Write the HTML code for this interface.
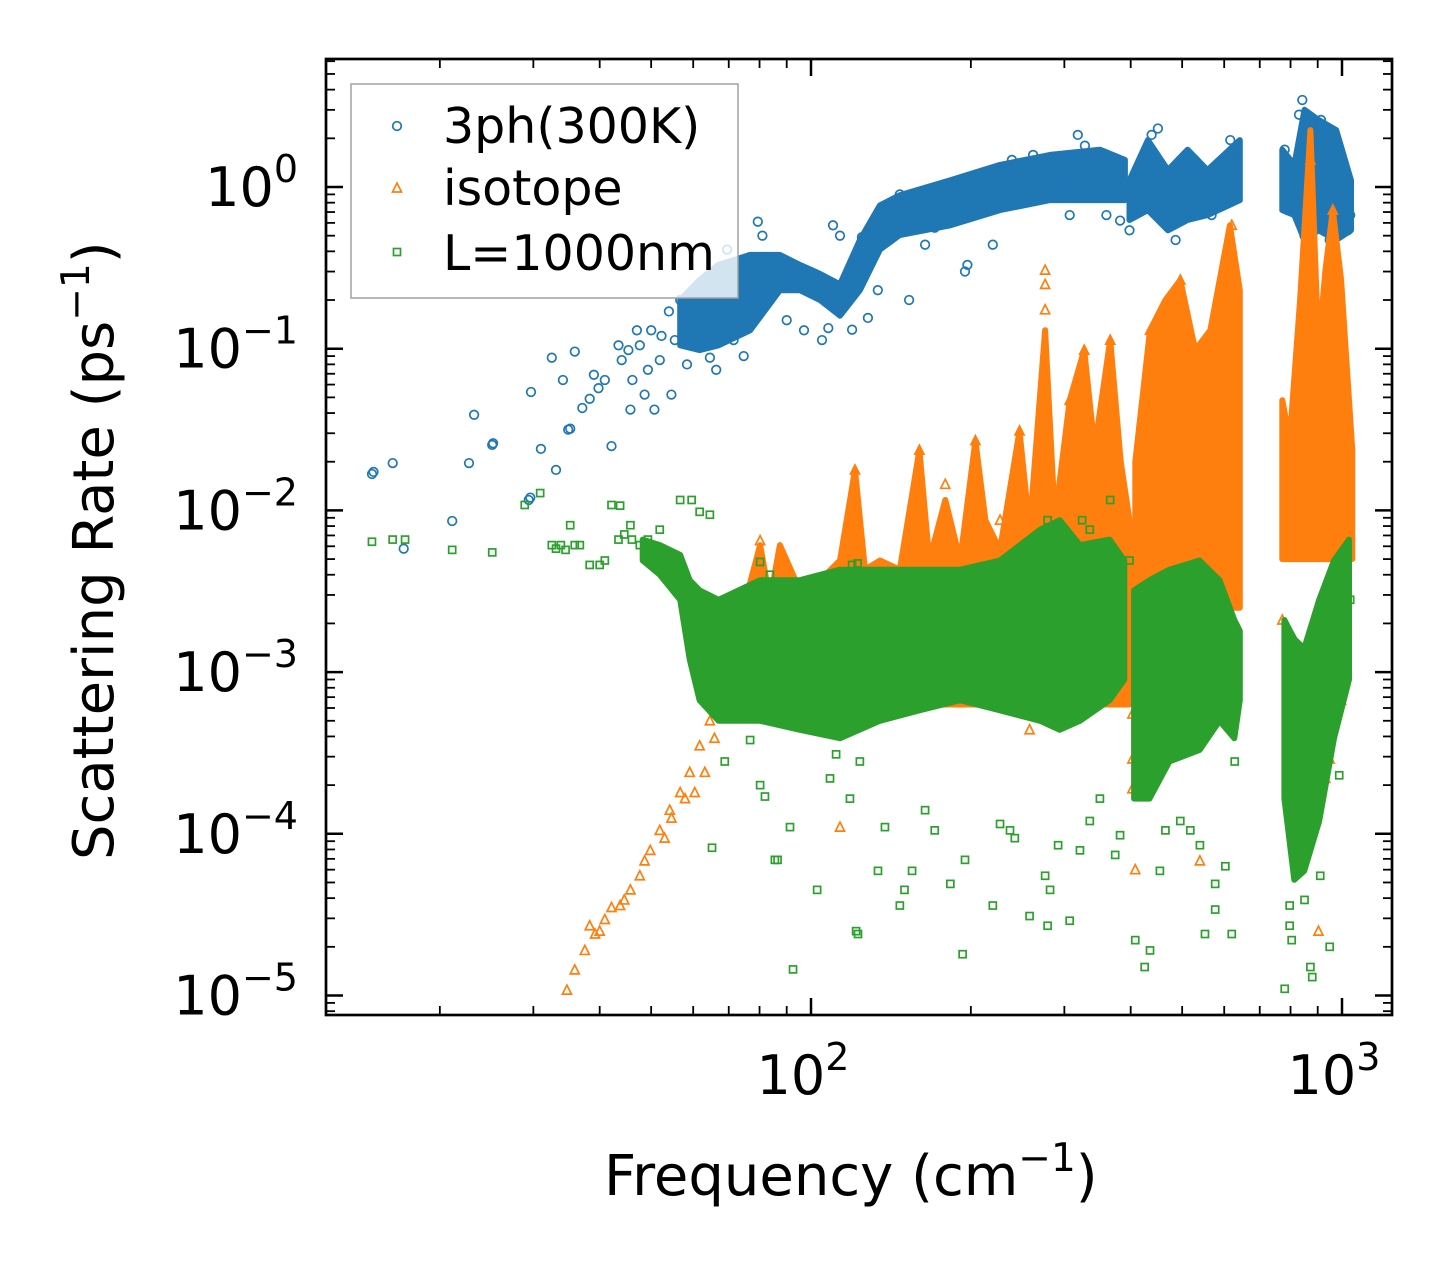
<!DOCTYPE html>
<html><head><meta charset="utf-8"><style>
html,body{margin:0;padding:0;background:#fff;}
svg{display:block;font-family:"DejaVu Sans","Liberation Sans",sans-serif;}
</style></head><body>
<svg id="chart" width="1455" height="1265" viewBox="0 0 1455 1265" xmlns="http://www.w3.org/2000/svg">
<rect x="0" y="0" width="1455" height="1265" fill="#fff"/>
<defs><clipPath id="plotclip"><rect x="326" y="59" width="1066" height="956"/></clipPath></defs>
<g id="plot" clip-path="url(#plotclip)"></g>
<g id="axes"></g>
<text x="604" y="1195" font-size="56" fill="#000">Frequency (cm<tspan font-size="39" dy="-24">−1</tspan><tspan dy="24">)</tspan></text>
<text transform="translate(113,860) rotate(-90)" font-size="56" fill="#000">Scattering Rate (ps<tspan font-size="39" dy="-24">−1</tspan><tspan dy="24">)</tspan></text>
<g>
<rect x="351" y="84" width="387" height="214" fill="rgba(255,255,255,0.8)" stroke="#a0a0a0" stroke-width="1.5"/>
<circle cx="397" cy="126" r="4.3" fill="none" stroke="#1f77b4" stroke-width="1.7"/>
<text x="443" y="143" font-size="49">3ph(300K)</text>
<polygon points="397,183 392.5,192 401.5,192" fill="none" stroke="#ff7f0e" stroke-width="1.7"/>
<text x="443" y="205" font-size="49">isotope</text>
<rect x="393.5" y="248.5" width="7" height="7" fill="none" stroke="#2ca02c" stroke-width="1.7"/>
<text x="443" y="270" font-size="49">L=1000nm</text>
</g>
</svg>
<script>
// ---- data (frequency in cm^-1, rate in ps^-1) ----
const blueFreq=[14.9,15,16.3,17.1,21.1,22.7,23.2,25.1,25.2,29.4,29.6,29.7,31,32.5,33.1,34.1,34.9,35.2,35.9,37.1,38.3,39,39.8,40.9,42.1,43.4,44,45.3,45.7,46.1,47,47.6,48.6,49.3,50,50.7,51.9,52.3,54,54.6,55.4,56.7,58.4,59.3,61,63.1,64.5,66.3,67,69.5,71.5,74.7,76.8,79.4,81,83.7,86.3,90,91.8,97,104.9,107.8,110,113.4,115.9,119.5,122.4,124.7,128,133.6,140.8,147,153,164,171,184,195,197,209,220,239,262,288,307,318,328,360,382,398,425,438,450,470,486,506,528,568,616,633,780,790,830,842,850,900,913,948,988,1025,1036];
const blueRate=[.0168,.0173,.0196,.0058,.0086,.0196,.039,.0254,.026,.0116,.012,.054,.024,.088,.0178,.064,.0316,.032,.096,.043,.049,.069,.057,.064,.025,.105,.085,.098,.042,.064,.13,.105,.052,.074,.13,.042,.085,.12,.17,.052,.113,.2,.08,.15,.105,.23,.088,.074,.32,.41,.113,.09,.15,.61,.5,.2,.36,.15,.29,.13,.113,.134,.58,.5,.2,.131,.345,.49,.155,.23,.72,.9,.2,.44,.56,1.03,.3,.33,1.19,.44,1.47,1.58,1.03,.67,2.1,1.8,.67,.62,.54,.83,2.1,2.3,.62,.47,1.03,1.47,.67,1.95,1.58,1.7,.72,2.8,3.45,.5,2.25,2.6,.47,.83,.54,.67];
const blueBandSeg=[0,0,0,0,0,0,0,0,0,0,0,0,0,0,0,0,1,1,1,1,1,1,2,2,2,2,2,2];
const blueBandFreq=[56.7,61.7,67,76.8,87.4,95.3,104,113.4,123.6,134.8,147,183,227,282,350,390,398,431,470,512,558,642,772,813,850,903,975,1040];
const blueBandLo=[.105,.098,.105,.13,.23,.23,.2,.16,.23,.41,.505,.58,.72,.83,.83,.83,.625,.72,.54,.625,.67,.83,.72,.67,.47,.54,.47,.54];
const blueBandHi=[.2,.266,.33,.38,.38,.33,.29,.25,.47,.77,.89,1.1,1.37,1.58,1.7,1.47,1.1,1.95,1.27,1.7,1.27,1.95,1.7,1.37,3,2.6,2.25,1.1];

const isoFreq=[34.7,35.9,37.5,39.2,40.9,43.7,45.7,47.6,49.8,51.9,54.2,56.7,59.1,61.7,64.5,67,38.3,40,42.1,44.5,48.6,53,54.6,57.9,60.4,63.1,65.8,276,276,276,620,620,872,961,247,204,160,121,496,366,327,307,435,80.2,179,227,113.4,403,403,403,540,408,813,834,903,948,930,797,996,258,217,386,321,797,1020,1032,772,834,930];
const isoRate=[1.08e-5,1.44e-5,1.9e-5,2.4e-5,2.95e-5,3.6e-5,4.5e-5,5.5e-5,7.9e-5,1.05e-4,1.4e-4,1.8e-4,2.4e-4,3.5e-4,5e-4,7.7e-4,2.7e-5,2.5e-5,3.5e-5,3.9e-5,6.8e-5,9.4e-5,1.25e-4,1.65e-4,1.8e-4,2.4e-4,3.9e-4,.306,.25,.174,.58,.41,1.47,.72,.031,.027,.0236,.0178,.266,.113,.098,.048,.13,.0065,.0145,.0087,1.1e-4,5.5e-4,2.9e-4,1.9e-4,6.8e-5,6e-5,.0016,1.05e-4,2.5e-5,2.9e-4,2.2e-4,6.7e-4,6.7e-4,4.4e-4,6.7e-4,7.7e-4,.0016,.0154,.036,.0178,.0021,.0087,.0024];
const isoBandSeg=[0,0,0,0,0,0,0,0,0,0,0,0,0,0,0,0,0,0,0,0,0,0,0,0,0,0,0,0,0,1,1,1,1,1,1,1,1,2,2,2,2,2,2,2,2,2];
const isoBandFreq=[67,73.6,80.2,83.7,87.4,95.3,104,113.4,121,126.4,134.8,147,160,167,179,191,204,213,227,247,258,276,288,307,327,342,366,383,398,408,435,465,496,529,565,615,642,772,797,834,872,903,930,961,996,1045];
const isoBandLo=[6.3e-4,6.3e-4,6.3e-4,6.3e-4,6.3e-4,6.3e-4,6.3e-4,6.3e-4,6.3e-4,6.3e-4,6.3e-4,6.3e-4,6.3e-4,6.3e-4,6.3e-4,6.3e-4,6.3e-4,6.3e-4,6.3e-4,6.3e-4,6.3e-4,6.3e-4,6.3e-4,6.3e-4,6.3e-4,6.3e-4,6.3e-4,6.3e-4,6.3e-4,.0025,.0025,.0025,.0025,.0025,.0025,.0025,.0025,.005,.005,.005,.005,.005,.005,.005,.005,.005];
const isoBandHi=[8.9e-4,.0021,.0061,.0028,.0061,.0032,.0037,.0049,.0178,.0043,.0049,.0043,.0236,.0049,.0116,.0049,.027,.0087,.0057,.031,.0076,.13,.0087,.048,.098,.024,.113,.02,.0087,.02,.13,.2,.266,.098,.13,.58,.23,.048,.027,.2,2.25,.098,.3,.72,.266,.024];

const bndFreq=[14.9,16.3,17.2,21.1,25.1,28.9,30.9,32.5,33.1,33.8,34.5,35.2,35.9,36.7,38.3,40,40.9,42.1,43.4,44.5,46,47.6,49.3,51.9,56.7,59.6,61.7,64.5,65.6,63.9,65.1,68.8,76.8,80.2,81.9,85.5,86.5,91.3,92.5,102.7,108.6,111.5,118.4,121.6,122.6,123.6,133.7,137.8,147,150,155,164,171,183,193,195,220,227,237,242,258,276,279,282,292,307,321,335,350,374,382,408,425,435,454,465,496,518,540,552,577,577,603,620,628,577,398,797,797,804,834,850,872,879,910,948,988,1025,1036,1016,276,279,324,366,335,119.5,122.4,80.2,83.7,45.7,43.7,780];
const bndRate=[.0064,.0066,.0066,.0057,.0055,.0108,.0128,.0061,.0058,.0061,.0057,.0081,.0061,.0061,.0046,.0046,.0049,.0108,.0066,.0071,.0066,.0061,.0066,.0076,.0116,.0116,.0098,.0094,.0014,.0012,8.2e-5,2.8e-4,3.8e-4,2e-4,1.7e-4,6.9e-5,6.9e-5,1.1e-4,1.45e-5,4.5e-5,2.2e-4,3.1e-4,1.65e-4,2.5e-5,2.4e-5,2.8e-4,5.9e-5,1.1e-4,3.6e-5,4.5e-5,5.9e-5,1.4e-4,1.05e-4,4.9e-5,1.8e-5,6.9e-5,3.6e-5,1.15e-4,1.05e-4,9.4e-5,3.1e-5,5.5e-5,2.7e-5,4.5e-5,8.5e-5,2.9e-5,7.9e-5,1.2e-4,1.65e-4,7.4e-5,9.8e-5,2.2e-5,1.5e-5,1.9e-5,5.9e-5,1.05e-4,1.2e-4,1.05e-4,8.5e-5,2.4e-5,4.9e-5,3.4e-5,6.3e-5,2.4e-5,2.8e-4,.0037,.0049,3.6e-5,2.7e-5,2.2e-5,5.9e-5,3.9e-5,1.5e-5,1.3e-5,5.5e-5,2e-5,2.3e-4,.0018,.0028,.0032,.0066,.0087,.0087,.0116,.0076,.0046,.0047,.0048,.004,.0081,.0107,1.1e-5];
const bndBandSeg=[0,0,0,0,0,0,0,0,0,0,0,0,0,0,0,0,0,0,1,1,1,1,1,1,1,2,2,2,2,2,2];
const bndBandFreq=[48.2,51.9,56.7,59.1,61.7,67,80.2,95.3,113.4,134.8,160,191,227,270,294,321,365,389,406,434,473,539,588,627,642,779,813,849,906,966,1031];
const bndBandLo=[.0049,.004,.0028,.0012,6.7e-4,5e-4,5e-4,4.4e-4,3.9e-4,5e-4,5.8e-4,6.7e-4,5.8e-4,5e-4,4.4e-4,5e-4,6.7e-4,9e-4,1.65e-4,1.65e-4,2.8e-4,3.3e-4,5e-4,3.9e-4,6.7e-4,1.65e-4,5.2e-5,5.9e-5,1.2e-4,3.9e-4,9e-4];
const bndBandHi=[.0066,.0061,.0053,.0037,.0032,.0028,.0037,.0037,.0043,.0043,.0043,.0043,.0049,.0076,.0087,.0061,.0066,.0049,.0032,.0037,.0043,.0049,.0037,.0021,.0018,.0021,.0016,.0014,.0028,.0049,.0066];

const xMajorTicks=[100,1000];
const xTickLabels=["2","3"];
const yMajorTicks=[1,0.1,0.01,0.001,0.0001,0.00001];
const yTickLabels=["0","−1","−2","−3","−4","−5"];

// ---- scales ----
const L=326,R=1392,T=59,B=1015;
function X(f){return 811+(Math.log10(f)-2)*531;}
function Y(r){return 187-Math.log10(r)*161.7;}
const NS="http://www.w3.org/2000/svg";
const plot=document.getElementById('plot');
const axes=document.getElementById('axes');
function mk(tag,attrs,parent){const e=document.createElementNS(NS,tag);for(const k in attrs)e.setAttribute(k,attrs[k]);parent.appendChild(e);return e;}

function band(freq,lo,hi,seg,color,name){
  const segs=[...new Set(seg)];
  segs.forEach(s=>{
    const idx=[];for(let i=0;i<freq.length;i++)if(seg[i]===s)idx.push(i);
    const up=idx.map(i=>X(freq[i]).toFixed(1)+','+Y(hi[i]).toFixed(1));
    const dn=idx.slice().reverse().map(i=>X(freq[i]).toFixed(1)+','+Y(lo[i]).toFixed(1));
    const p=mk('polygon',{points:up.concat(dn).join(' '),fill:color,stroke:color,'stroke-width':6,'stroke-linejoin':'round'},plot);
    
    
  });
}
function circles(freq,rate,color,name){
  const g=mk('g',{},plot);
  
  
  for(let i=0;i<freq.length;i++){
    const c=mk('circle',{cx:X(freq[i]).toFixed(1),cy:Y(rate[i]).toFixed(1),r:4.3,fill:'none',stroke:color,'stroke-width':1.7},g);
    
    
  }
}
function tris(freq,rate,color,name){
  const g=mk('g',{},plot);
  
  
  for(let i=0;i<freq.length;i++){
    const x=X(freq[i]),y=Y(rate[i]);
    const t=mk('polygon',{points:`${x},${y-5} ${x-4.5},${y+4} ${x+4.5},${y+4}`,fill:'none',stroke:color,'stroke-width':1.7},g);
    
    
  }
}
function squares(freq,rate,color,name){
  const g=mk('g',{},plot);
  
  
  for(let i=0;i<freq.length;i++){
    const x=X(freq[i]),y=Y(rate[i]);
    const s=mk('rect',{x:x-3.5,y:y-3.5,width:7,height:7,fill:'none',stroke:color,'stroke-width':1.7},g);
    
    
  }
}
const C1='#1f77b4',C2='#ff7f0e',C3='#2ca02c';
band(blueBandFreq,blueBandLo,blueBandHi,blueBandSeg,C1,'3ph');
circles(blueFreq,blueRate,C1,'series-3ph');
band(isoBandFreq,isoBandLo,isoBandHi,isoBandSeg,C2,'isotope');
tris(isoFreq,isoRate,C2,'series-isotope');
band(bndBandFreq,bndBandLo,bndBandHi,bndBandSeg,C3,'boundary');
squares(bndFreq,bndRate,C3,'series-boundary');

// ---- axes ----
const frame=mk('rect',{x:L,y:T,width:R-L,height:B-T,fill:'none',stroke:'#000','stroke-width':2.7},axes);


function tick(x1,y1,x2,y2,w,name){const l=mk('line',{x1,y1,x2,y2,stroke:'#000','stroke-width':w},axes);}
for(let d=10;d<=1000;d*=10){for(let m=1;m<10;m++){const v=d*m;const x=X(v);if(x<L+1||x>R-1)continue;const len=m===1?17:9;const w=m===1?2.5:1.8;
  tick(x,B,x,B-len,w,'x-tick');tick(x,T,x,T+len,w,'x-tick-top');}}
xMajorTicks.forEach((v,i)=>{const t=mk('text',{x:X(v)-8,y:1094,'font-size':54,'text-anchor':'middle'},axes);
  
  
  t.textContent='10';const s=mk('tspan',{'font-size':38,dy:-24},t);s.textContent=xTickLabels[i];});
for(let e=-6;e<=0;e++){for(let m=1;m<10;m++){const v=m*Math.pow(10,e);const y=Y(v);if(y<T+1||y>B-1)continue;const len=m===1?17:9;const w=m===1?2.5:1.8;
  tick(L,y,L+len,y,w,'y-tick');tick(R,y,R-len,y,w,'y-tick-right');}}
yMajorTicks.forEach((v,i)=>{const y=Y(v);const t=mk('text',{x:298,y:y+19,'font-size':54,'text-anchor':'end'},axes);
  
  
  t.textContent='10';const s=mk('tspan',{'font-size':38,dy:-24},t);s.textContent=yTickLabels[i];});
</script>
</body></html>
